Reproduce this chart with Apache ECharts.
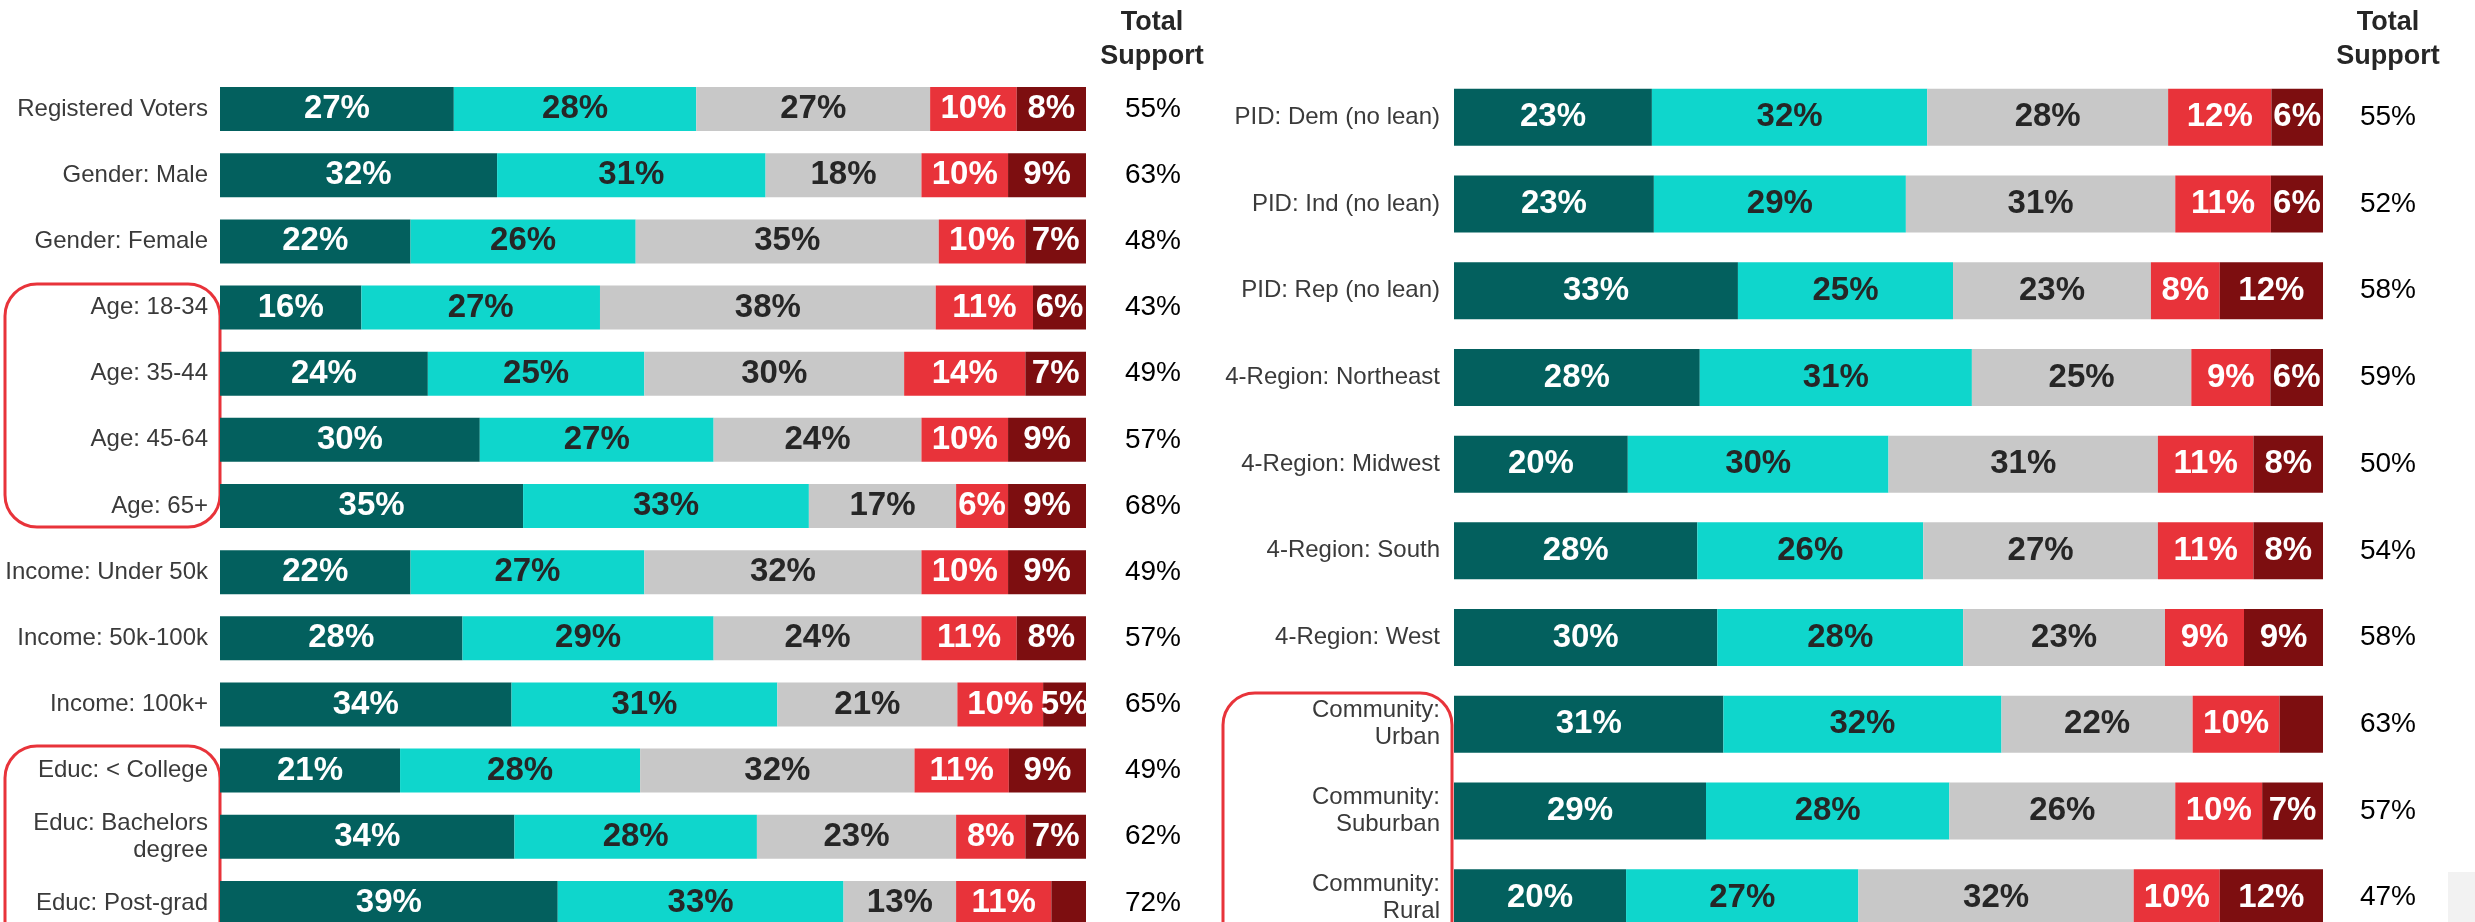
<!DOCTYPE html>
<html>
<head>
<meta charset="utf-8">
<script src="https://cdn.jsdelivr.net/npm/echarts@6/dist/echarts.min.js"></script>
<style>
html, body { margin: 0; padding: 0; background: #fff; }
#chart { width: 2475px; height: 922px; }
</style>
</head>
<body>
<div id="chart"></div>
<script>
// left panel
var leftGroups = ['Registered Voters', 'Gender: Male', 'Gender: Female', 'Age: 18-34', 'Age: 35-44', 'Age: 45-64', 'Age: 65+',
    'Income: Under 50k', 'Income: 50k-100k', 'Income: 100k+', 'Educ: < College', 'Educ: Bachelors\ndegree', 'Educ: Post-grad'];
var leftStrong = [27, 32, 22, 16, 24, 30, 35, 22, 28, 34, 21, 34, 39];
var leftSome = [28, 31, 26, 27, 25, 27, 33, 27, 29, 31, 28, 28, 33];
var leftNeither = [27, 18, 35, 38, 30, 24, 17, 32, 24, 21, 32, 23, 13];
var leftOppose = [10, 10, 10, 11, 14, 10, 6, 10, 11, 10, 11, 8, 11];
var leftStrongOppose = [8, 9, 7, 6, 7, 9, 9, 9, 8, 5, 9, 7, 4];
var leftTotal = [55, 63, 48, 43, 49, 57, 68, 49, 57, 65, 49, 62, 72];
var leftNoLabel = [12];

// right panel
var rightGroups = ['PID: Dem (no lean)', 'PID: Ind (no lean)', 'PID: Rep (no lean)', '4-Region: Northeast', '4-Region: Midwest',
    '4-Region: South', '4-Region: West', 'Community:\nUrban', 'Community:\nSuburban', 'Community:\nRural'];
var rightStrong = [23, 23, 33, 28, 20, 28, 30, 31, 29, 20];
var rightSome = [32, 29, 25, 31, 30, 26, 28, 32, 28, 27];
var rightNeither = [28, 31, 23, 25, 31, 27, 23, 22, 26, 32];
var rightOppose = [12, 11, 8, 9, 11, 11, 9, 10, 10, 10];
var rightStrongOppose = [6, 6, 12, 6, 8, 8, 9, 5, 7, 12];
var rightTotal = [55, 52, 58, 59, 50, 54, 58, 63, 57, 47];
var rightNoLabel = [7];

var colores = ['#03605e', '#0fd6cc', '#c8c8c8', '#e8333a', '#7d0e10'];
var coloresTexto = ['#ffffff', '#262626', '#262626', '#ffffff', '#ffffff'];
var nombres = ['Strongly support', 'Somewhat support', 'Neither', 'Somewhat oppose', 'Strongly oppose'];
var fuente = '"Liberation Sans", Arial, sans-serif';

function armarSeries(partes, idx, barW, sinEtiqueta) {
    var series = [];
    var n = partes[0].length;
    var sumas = [];
    for (var i = 0; i < n; i++) {
        var s = 0;
        for (var k = 0; k < partes.length; k++) s += partes[k][i];
        sumas.push(s);
    }
    for (var k = 0; k < partes.length; k++) {
        var datos = [];
        for (var i = 0; i < n; i++) {
            var item = { value: partes[k][i] / sumas[i] * 100, raw: partes[k][i] };
            if (k === 4 && sinEtiqueta.indexOf(i) >= 0) item.label = { show: false };
            datos.push(item);
        }
        series.push({
            name: nombres[k],
            type: 'bar',
            stack: 'p' + idx,
            xAxisIndex: idx,
            yAxisIndex: idx * 2,
            barWidth: barW,
            itemStyle: { color: colores[k] },
            label: {
                show: true,
                position: 'inside',
                color: coloresTexto[k],
                fontSize: 33,
                fontWeight: 'bold',
                fontFamily: fuente,
                formatter: function(p) { return p.data.raw + '%'; }
            },
            data: datos
        });
    }
    return series;
}

function ejeCategorias(grupos, idx, margen, tam) {
    return {
        type: 'category', gridIndex: idx, inverse: true, data: grupos,
        axisLine: { show: false }, axisTick: { show: false },
        axisLabel: { margin: margen, fontSize: tam, color: '#3a3a3a', fontFamily: fuente, lineHeight: 27, align: 'right' }
    };
}

function ejeTotales(totales, idx, margen) {
    return {
        type: 'category', gridIndex: idx, inverse: true, position: 'right',
        data: totales.map(function(t) { return t + '%'; }),
        axisLine: { show: false }, axisTick: { show: false },
        axisLabel: { margin: margen, fontSize: 28, color: '#000', fontFamily: fuente, align: 'center' }
    };
}

var chart = echarts.init(document.getElementById('chart'));

var series = armarSeries([leftStrong, leftSome, leftNeither, leftOppose, leftStrongOppose], 0, 44, leftNoLabel)
    .concat(armarSeries([rightStrong, rightSome, rightNeither, rightOppose, rightStrongOppose], 1, 57, rightNoLabel));

chart.setOption({
    animation: false,
    backgroundColor: '#fff',
    grid: [
        { left: 220, width: 866, top: 76, height: 860, outerBoundsMode: 'none' },
        { left: 1454, width: 869, top: 74, height: 867, outerBoundsMode: 'none' }
    ],
    xAxis: [
        { type: 'value', gridIndex: 0, min: 0, max: 100, show: false },
        { type: 'value', gridIndex: 1, min: 0, max: 100, show: false }
    ],
    yAxis: [
        ejeCategorias(leftGroups, 0, 12, 24),
        ejeTotales(leftTotal, 0, 67),
        ejeCategorias(rightGroups, 1, 14, 24),
        ejeTotales(rightTotal, 1, 65)
    ],
    graphic: [
        { type: 'text', x: 1152, y: 6, style: { text: 'Total\nSupport', textAlign: 'center', font: 'bold 27px ' + fuente, fill: '#262626', lineHeight: 34 } },
        { type: 'text', x: 2388, y: 6, style: { text: 'Total\nSupport', textAlign: 'center', font: 'bold 27px ' + fuente, fill: '#262626', lineHeight: 34 } },
        { type: 'rect', shape: { x: 5, y: 284, width: 215, height: 243, r: 32 }, style: { fill: 'none', stroke: '#e8333a', lineWidth: 3 } },
        { type: 'rect', shape: { x: 5, y: 746, width: 215, height: 210, r: 32 }, style: { fill: 'none', stroke: '#e8333a', lineWidth: 3 } },
        { type: 'rect', shape: { x: 1223, y: 693, width: 229, height: 260, r: 32 }, style: { fill: 'none', stroke: '#e8333a', lineWidth: 3 } },
        { type: 'rect', shape: { x: 2448, y: 872, width: 27, height: 50 }, style: { fill: '#f2f2f2' }, z: -1 }
    ],
    series: series
});
</script>
</body>
</html>
